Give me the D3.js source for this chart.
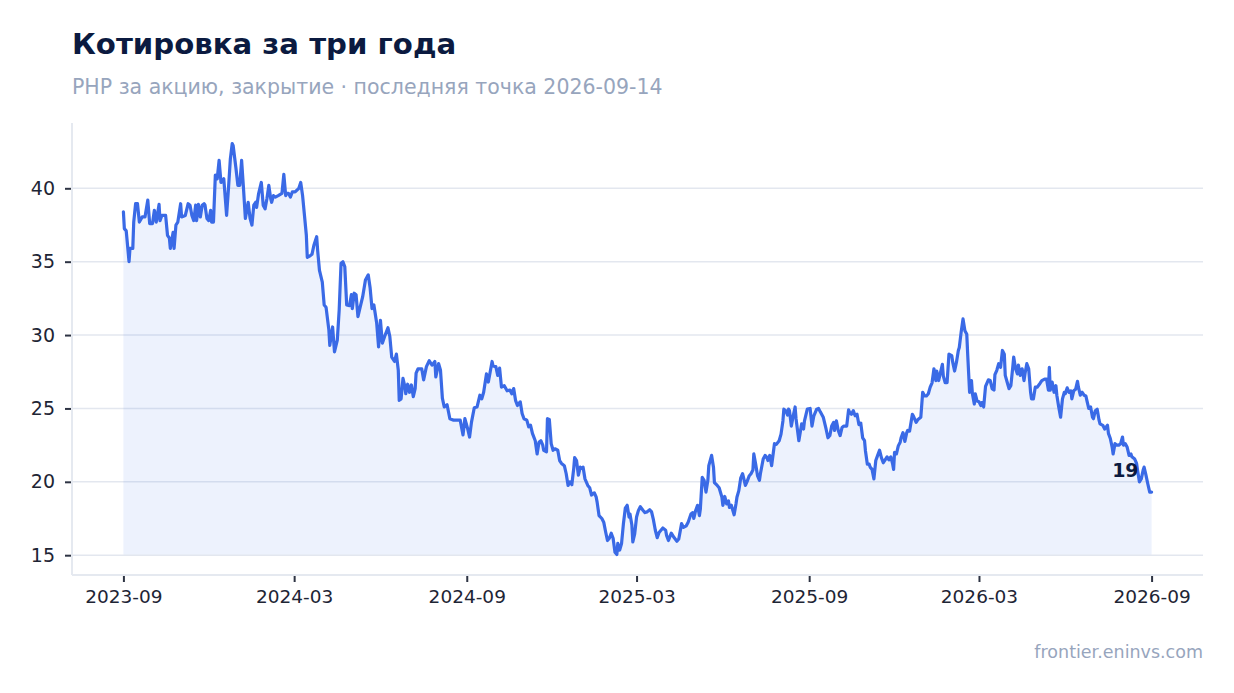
<!DOCTYPE html>
<html>
<head>
<meta charset="utf-8">
<script src="https://cdn.jsdelivr.net/npm/d3@7"></script>
<style>
  html, body { margin: 0; padding: 0; background: #ffffff; }
  svg { display: block; font-family: "DejaVu Sans", sans-serif; }
</style>
</head>
<body>
<svg id="chart" width="1234" height="693"></svg>
<script>
// ---- data ----
const startDate = "2023-09-14";
const lastDateText = "2026-09-14";
// day offsets from startDate
const dayOffsets = [
0,1,3,6,7,10,11,13,15,17,20,23,26,28,31,33,35,38,39,41,45,47,49,50,53,54,56,58,61,62,66,69,71,73,75,77,78,80,82,84,86,87,89,91,93,94,96,98,100,102,104,107,110,112,114,116,117,120,122,124,126,128,130,132,133,135,137,139,141,142,144,147,149,151,153,155,157,158,160,162,165,169,171,173,174,176,178,180,183,187,189,191,193,195,196,199,201,203,206,207,209,212,214,216,219,220,223,225,228,230,232,234,236,238,241,243,244,246,248,250,252,255,258,261,263,265,267,270,272,274,276,279,282,284,286,289,291,293,294,296,298,300,301,303,305,307,309,311,312,314,318,320,323,326,329,332,333,336,338,340,342,345,348,352,355,359,362,364,367,369,371,374,377,380,382,384,387,389,391,393,394,397,399,401,403,406,409,412,414,416,418,420,423,425,427,430,432,434,436,439,441,443,445,447,448,451,452,454,456,458,460,463,465,467,470,472,474,476,478,480,481,483,485,487,489,490,492,495,497,499,502,504,505,507,510,512,514,516,518,520,522,524,526,527,529,531,533,535,537,539,540,542,543,545,547,549,551,554,556,558,561,563,565,567,569,571,575,578,579,581,584,587,590,592,595,597,600,602,605,607,608,610,612,614,615,617,619,621,623,624,627,629,630,633,635,638,639,641,643,645,646,648,651,653,654,656,658,660,661,663,665,667,669,671,672,674,676,678,679,682,684,686,687,689,691,693,694,696,699,701,703,704,706,708,709,710,712,714,716,717,720,723,725,726,729,732,734,736,739,741,743,746,749,751,753,755,757,758,760,762,764,766,768,771,773,774,776,778,780,782,784,786,788,790,791,793,795,796,798,800,802,804,806,808,810,812,814,816,818,820,821,822,824,826,828,829,831,833,835,836,838,841,842,845,847,850,852,854,856,858,860,862,864,866,867,869,871,873,874,876,878,880,883,884,886,888,890,891,893,895,897,899,900,902,904,905,907,908,910,912,914,915,917,919,922,924,926,928,929,931,933,935,937,939,940,942,944,946,948,949,951,953,954,956,958,960,961,963,965,967,968,970,972,974,977,979,982,984,986,987,988,990,992,994,995,997,999,1001,1003,1004,1006,1008,1010,1011,1013,1015,1017,1018,1020,1022,1024,1026,1027,1029,1031,1033,1034,1036,1038,1040,1041,1044,1046,1049,1050,1052,1054,1055,1057,1059,1061,1063,1065,1066,1068,1070,1072,1074,1075,1078,1080,1081,1083,1085,1087,1088,1090,1092,1094,1096
];
const closes = [
38.4,37.25,37.1,35.0,35.9,35.9,37.7,38.95,38.95,37.7,38.05,38.05,39.2,37.6,37.6,38.5,37.7,38.9,37.8,38.15,38.15,36.8,36.6,35.9,37.0,35.9,37.5,37.7,38.95,38.05,38.15,38.95,38.85,38.15,37.8,38.85,37.8,38.9,38.05,38.85,38.95,38.85,37.95,37.8,38.5,37.7,37.7,40.9,40.65,41.9,40.4,40.65,38.15,40.0,42.0,43.05,42.9,41.35,40.2,40.2,41.9,40.0,37.95,38.7,39.05,37.95,37.5,38.85,39.05,38.7,39.6,40.4,38.85,38.6,39.3,40.2,39.3,39.05,39.5,39.4,39.5,39.65,40.95,39.5,39.65,39.65,39.4,39.75,39.75,40.0,40.4,39.5,38.15,36.8,35.3,35.4,35.5,36.1,36.7,35.8,34.4,33.6,32.05,31.9,30.35,29.3,30.55,28.85,29.65,31.7,34.9,35.0,34.65,32.05,32.0,32.75,31.8,32.85,32.75,31.25,31.8,32.6,33.75,34.1,33.2,31.8,32.05,30.8,29.2,31.0,29.45,30.0,30.5,29.9,28.5,28.2,28.7,27.6,25.55,25.65,27.05,26.5,26.0,26.65,26.1,26.6,25.8,26.35,27.4,27.7,27.7,26.95,27.85,28.25,27.95,28.2,27.15,28.05,27.6,25.7,25.1,25.25,24.3,24.2,24.2,24.2,23.2,24.3,23.6,23.05,24.05,25.05,25.1,25.9,25.65,26.1,27.35,26.8,27.5,28.2,27.9,27.85,27.25,27.75,26.45,26.55,26.2,26.25,26.0,26.35,25.55,25.2,25.45,24.65,24.3,24.2,23.75,23.85,23.3,22.8,21.9,22.7,22.8,22.5,22.15,22.05,24.3,24.25,22.6,22.15,22.25,22.15,21.45,21.25,21.1,20.55,19.75,20.0,19.8,20.9,21.65,21.45,20.45,21.0,20.9,21.0,20.2,19.75,19.6,19.1,19.25,18.95,18.6,17.7,17.5,17.25,16.6,16.0,16.15,16.5,16.15,15.2,15.05,15.8,15.35,15.8,17.15,18.2,18.4,17.6,17.8,17.05,15.9,16.45,17.6,18.05,18.3,18.05,17.9,17.95,18.1,17.95,17.4,16.7,16.2,16.55,16.85,16.7,16.35,16.0,16.5,16.2,15.95,16.1,17.15,16.9,17.0,17.25,17.8,17.9,17.5,18.05,18.4,17.7,18.15,20.3,20.1,19.3,20.1,21.1,21.8,21.0,19.95,19.75,19.6,18.95,18.4,19.0,18.5,18.7,18.25,18.4,17.75,18.5,18.95,19.4,20.25,20.55,20.3,19.75,20.05,20.4,20.55,20.8,21.9,21.2,20.4,20.1,20.55,21.55,21.8,21.65,21.45,21.8,21.1,22.1,22.6,22.55,22.8,23.25,24.15,24.95,24.85,24.55,24.95,24.85,23.8,24.5,25.1,24.3,22.8,23.95,23.6,24.15,24.95,25.0,23.8,24.5,24.95,25.0,24.75,24.4,23.6,23.0,23.15,23.8,24.05,23.5,24.15,23.5,23.15,23.7,23.8,23.8,24.9,24.75,24.6,24.85,24.5,24.6,23.9,24.0,23.0,22.8,22.1,21.2,21.2,21.0,20.85,20.2,21.45,21.8,22.15,21.65,21.3,21.5,21.7,21.5,21.7,21.2,20.85,22.0,21.9,22.45,22.7,23.0,23.35,22.75,23.35,23.5,23.45,24.6,24.5,24.05,24.25,24.4,26.1,25.85,25.85,26.0,26.45,26.75,27.7,26.9,27.55,26.9,27.45,28.0,27.2,26.75,26.75,28.7,28.6,28.15,27.55,28.15,28.95,29.15,30.2,31.1,30.3,30.05,28.65,26.1,26.9,26.0,25.3,26.0,25.5,25.45,25.2,25.4,25.1,26.5,26.95,26.9,26.35,26.25,27.3,27.6,28.05,27.8,28.95,28.7,27.25,26.8,26.35,26.55,27.8,28.5,27.7,27.35,27.95,27.25,27.7,26.9,27.35,28.05,27.7,26.1,25.65,25.65,26.45,26.45,26.7,26.9,27.0,27.0,26.25,27.8,26.25,26.8,26.1,26.55,25.9,25.1,24.4,25.65,26.1,26.0,26.4,26.1,26.2,25.65,26.2,26.3,26.85,26.45,25.9,26.1,25.9,25.85,25.55,25.0,25.1,24.4,24.3,24.85,24.95,24.2,23.95,23.85,23.6,23.85,23.3,22.95,22.35,21.9,22.6,22.5,22.5,22.6,23.05,22.5,22.6,22.35,21.8,21.9,21.7,21.55,21.25,20.8,20.0,20.2,20.8,21.0,20.45,19.85,19.3,19.3
];
const xTickDates = ["2023-09-14","2024-03-14","2024-09-14","2025-03-14","2025-09-14","2026-03-14","2026-09-14"];
const yTickValues = [15, 20, 25, 30, 35, 40];

const titleText = "Котировка за три года";
const subtitleText = "PHP за акцию, закрытие · последняя точка " + lastDateText;
const sourceText = "frontier.eninvs.com";

// ---- build ----
const parseDate = d3.utcParse("%Y-%m-%d");
const t0 = parseDate(startDate);
const series = dayOffsets.map((d, i) => ({ date: d3.utcDay.offset(t0, d), value: closes[i] }));

const W = 1234, H = 693;
const plotLeft = 72, plotRight = 1203, plotTop = 123, plotBottom = 575;

const tExt = d3.extent(series, d => d.date);
const tSpan = tExt[1] - tExt[0];
const xScale = d3.scaleUtc()
  .domain([new Date(+tExt[0] - 0.05 * tSpan), new Date(+tExt[1] + 0.05 * tSpan)])
  .range([plotLeft, plotRight]);

const vMin = d3.min(closes), vMax = d3.max(closes);
const vSpan = vMax - vMin;
const yScale = d3.scaleLinear()
  .domain([vMin - 0.05 * vSpan, vMax + 0.05 * vSpan])
  .range([plotBottom, plotTop]);

const svg = d3.select("#chart");
svg.append("rect").attr("width", W).attr("height", H).attr("fill", "#ffffff");

// title & subtitle
svg.append("text").attr("x", 72).attr("y", 54)
  .attr("font-size", 29.2).attr("font-weight", "bold").attr("fill", "#0b1a40")
  .text(titleText);
svg.append("text").attr("x", 72).attr("y", 94)
  .attr("font-size", 20.5).attr("fill", "#97a5bd")
  .text(subtitleText);

// gridlines
svg.append("g").selectAll("line").data(yTickValues).join("line")
  .attr("x1", plotLeft).attr("x2", plotRight)
  .attr("y1", d => yScale(d)).attr("y2", d => yScale(d))
  .attr("stroke", "#e3e7ef").attr("stroke-width", 1.6);

// area + line
const areaGen = d3.area().x(d => xScale(d.date)).y0(yScale(vMin)).y1(d => yScale(d.value));
const lineGen = d3.line().x(d => xScale(d.date)).y(d => yScale(d.value));
svg.append("path").datum(series).attr("d", areaGen)
  .attr("fill", "#3a6ae6").attr("fill-opacity", 0.09);
svg.append("path").datum(series).attr("d", lineGen)
  .attr("fill", "none").attr("stroke", "#3a6ae6").attr("stroke-width", 3.2)
  .attr("stroke-linejoin", "round").attr("stroke-linecap", "round");

// axes
const yAxis = d3.axisLeft(yScale).tickValues(yTickValues).tickSize(6).tickPadding(10).tickFormat(d3.format("d"));
const gy = svg.append("g").attr("transform", `translate(${plotLeft - 1},0)`).call(yAxis);
gy.select(".domain").remove();
gy.selectAll(".tick line").attr("stroke", "#2d3343").attr("stroke-width", 2);
gy.selectAll(".tick text").attr("font-size", 19).attr("fill", "#1e2535")
  .attr("font-family", "DejaVu Sans, sans-serif");

const fmt = d3.utcFormat("%Y-%m");
const xAxis = d3.axisBottom(xScale).tickValues(xTickDates.map(parseDate)).tickSize(6).tickPadding(8).tickFormat(fmt);
const gx = svg.append("g").attr("transform", `translate(0,${plotBottom + 1})`).call(xAxis);
gx.select(".domain").remove();
gx.selectAll(".tick line").attr("stroke", "#2d3343").attr("stroke-width", 2);
gx.selectAll(".tick text").attr("font-size", 18.5).attr("fill", "#1e2535")
  .attr("font-family", "DejaVu Sans, sans-serif");

// axis lines
svg.append("line").attr("x1", plotLeft).attr("x2", plotLeft).attr("y1", plotTop).attr("y2", plotBottom)
  .attr("stroke", "#e5e9f0").attr("stroke-width", 2);
svg.append("line").attr("x1", plotLeft).attr("x2", plotRight).attr("y1", plotBottom).attr("y2", plotBottom)
  .attr("stroke", "#e5e9f0").attr("stroke-width", 2);

// last value label
const lastPt = series[series.length - 1];
svg.append("text").attr("x", xScale(lastPt.date) - 13).attr("y", yScale(lastPt.value) - 15)
  .attr("text-anchor", "end").attr("font-size", 19).attr("font-weight", "bold")
  .attr("fill", "#0b1a40").text(d3.format(".0f")(lastPt.value));

// source
svg.append("text").attr("x", 1203).attr("y", 658).attr("text-anchor", "end")
  .attr("font-size", 17.5).attr("fill", "#97a5bd").text(sourceText);
</script>
</body>
</html>
